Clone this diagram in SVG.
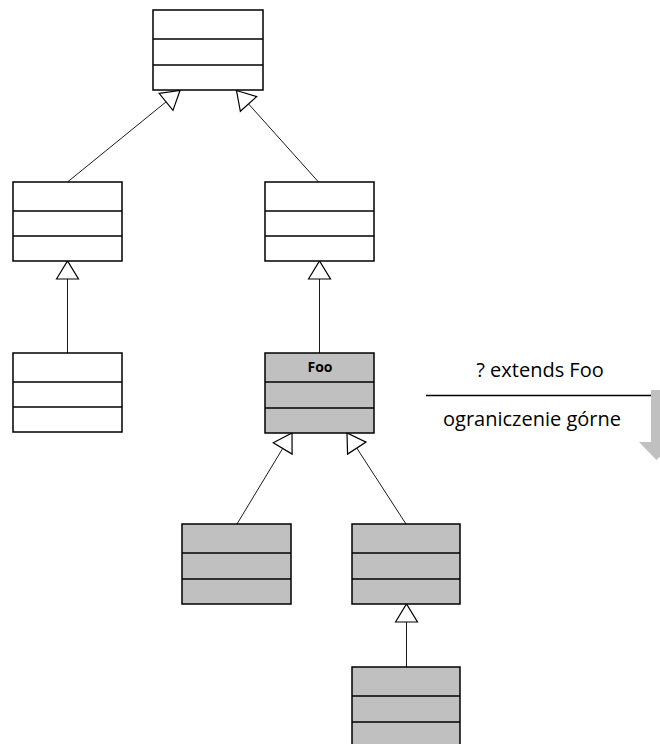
<svg xmlns="http://www.w3.org/2000/svg" width="660" height="744" viewBox="0 0 660 744">
  <style>
    .cls rect { stroke: #000; stroke-width: 1.5; }
    .cls line { stroke: #000; stroke-width: 1.5; }
    .plain rect { fill: #fff; }
    .bound rect { fill: #c0c0c0; }
    .edge { stroke: #1a1a1a; stroke-width: 1; fill: none; marker-end: url(#gen); }
    .label { font-family: "Open Sans", "Liberation Sans", sans-serif; fill: #000; text-anchor: middle; }
  </style>
  <defs>
    <!-- hollow UML generalization head -->
    <marker id="gen" markerUnits="userSpaceOnUse" viewBox="0 0 18 22" refX="18" refY="11" markerWidth="18" markerHeight="22" orient="auto" style="overflow:visible">
      <path d="M0,0 L18,11 L0,22 Z" fill="#fff" stroke="#000" stroke-width="1.2"/>
    </marker>
  </defs>

  <!-- generalization connectors (child top -> parent bottom) -->
  <g id="connectors">
    <line class="edge" x1="67.5" y1="182" x2="180" y2="90.5"/>
    <line class="edge" x1="318.5" y1="182" x2="236.5" y2="90.5"/>
    <line class="edge" x1="67.5" y1="353" x2="67.5" y2="261"/>
    <line class="edge" x1="319.5" y1="353" x2="319.5" y2="261"/>
    <line class="edge" x1="237" y1="524" x2="292" y2="433"/>
    <line class="edge" x1="406" y1="524" x2="347" y2="433"/>
    <line class="edge" x1="406.5" y1="667" x2="406.5" y2="604"/>
  </g>

  <!-- classes -->
  <g id="root" class="cls plain">
    <rect x="153" y="10" width="110" height="80"/>
    <line x1="153" y1="39" x2="263" y2="39"/>
    <line x1="153" y1="65" x2="263" y2="65"/>
  </g>
  <g id="left-a" class="cls plain">
    <rect x="13" y="182" width="109" height="79"/>
    <line x1="13" y1="211" x2="122" y2="211"/>
    <line x1="13" y1="236" x2="122" y2="236"/>
  </g>
  <g id="right-a" class="cls plain">
    <rect x="265" y="182" width="109" height="79"/>
    <line x1="265" y1="211" x2="374" y2="211"/>
    <line x1="265" y1="236" x2="374" y2="236"/>
  </g>
  <g id="left-b" class="cls plain">
    <rect x="13" y="353" width="109" height="79"/>
    <line x1="13" y1="382" x2="122" y2="382"/>
    <line x1="13" y1="407" x2="122" y2="407"/>
  </g>
  <g id="foo" class="cls bound">
    <rect x="265" y="353" width="109" height="80"/>
    <line x1="265" y1="382" x2="374" y2="382"/>
    <line x1="265" y1="408" x2="374" y2="408"/>
    <text class="label" x="320" y="372" font-size="14" font-weight="bold">Foo</text>
  </g>
  <g id="sub-a" class="cls bound">
    <rect x="182" y="524" width="109" height="80"/>
    <line x1="182" y1="553" x2="291" y2="553"/>
    <line x1="182" y1="579" x2="291" y2="579"/>
  </g>
  <g id="sub-b" class="cls bound">
    <rect x="352" y="524" width="108" height="80"/>
    <line x1="352" y1="553" x2="460" y2="553"/>
    <line x1="352" y1="579" x2="460" y2="579"/>
  </g>
  <g id="sub-c" class="cls bound">
    <rect x="352" y="667" width="108" height="80"/>
    <line x1="352" y1="696" x2="460" y2="696"/>
    <line x1="352" y1="722" x2="460" y2="722"/>
  </g>

  <!-- upper bound legend -->
  <g id="legend">
    <polygon points="651,390 662,390 662,442 674,442 656.5,460 639,442 651,442" fill="#c0c0c0"/>
    <line x1="426" y1="395.5" x2="651" y2="395.5" stroke="#000" stroke-width="1.5"/>
    <text class="label" x="540" y="377" font-size="20">? extends Foo</text>
    <text class="label" x="532" y="426" font-size="20">ograniczenie górne</text>
  </g>
</svg>
